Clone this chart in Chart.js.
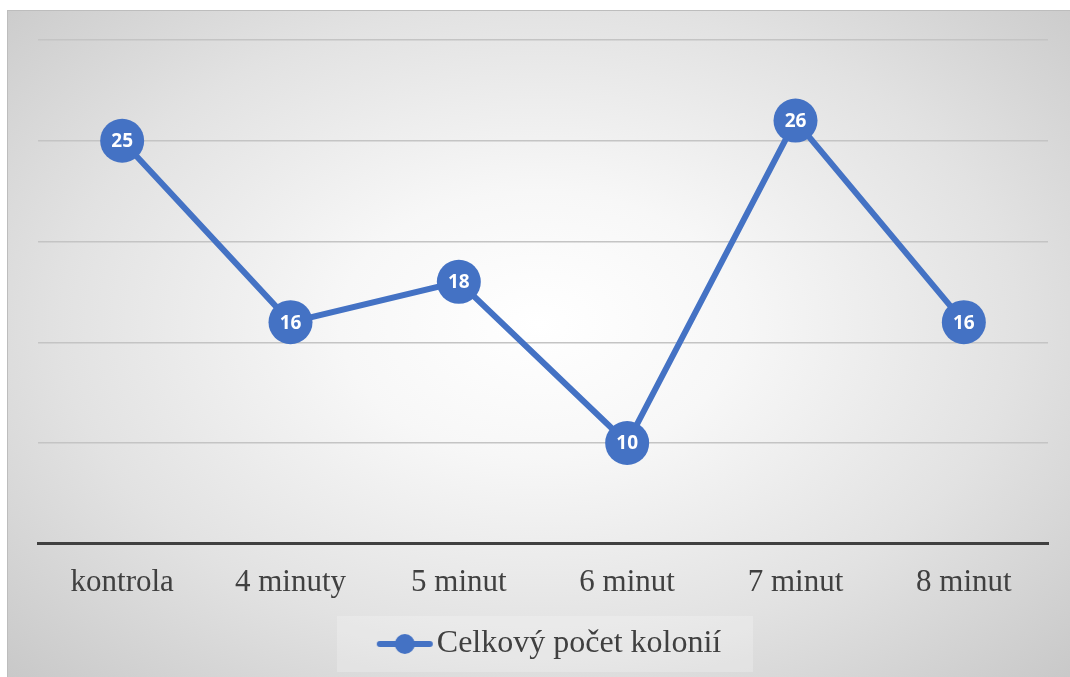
<!DOCTYPE html>
<html>
<head>
<meta charset="utf-8">
<script src="https://cdn.jsdelivr.net/npm/chart.js@4"></script>
<style>
  html, body { margin: 0; padding: 0; background: #ffffff; }
  #frame {
    position: absolute; left: 7px; top: 10px; width: 1063px; height: 667px;
    border-top: 1px solid #bdbdbd; border-left: 1px solid #bdbdbd;
    box-sizing: border-box;
    background: radial-gradient(ellipse 75% 80% at 50% 47%, #ffffff 0%, #f7f7f7 25%, #e2e2e2 60%, #c4c4c4 100%);
  }
</style>
</head>
<body>
<div id="frame"><canvas id="chart"></canvas></div>
<script>
// Chart data
const categories = ['kontrola', '4 minuty', '5 minut', '6 minut', '7 minut', '8 minut'];
const colonyCounts = [25, 16, 18, 10, 26, 16];
const seriesLabel = 'Celkový počet kolonií';

const BLUE = '#4472C4';
const TEXT = '#404040';

// legend marker: line with a dot in the middle (drawn right of the canvas centre
// so that it sits close to the legend text)
function legendMarker() {
  const c = document.createElement('canvas');
  c.width = 80; c.height = 24;
  const g = c.getContext('2d');
  g.strokeStyle = BLUE;
  g.lineWidth = 6;
  g.lineCap = 'round';
  g.beginPath();
  g.moveTo(25, 12);
  g.lineTo(75, 12);
  g.stroke();
  g.fillStyle = BLUE;
  g.beginPath();
  g.arc(50, 12, 10, 0, Math.PI * 2);
  g.fill();
  return c;
}
const marker = legendMarker();

// white value labels inside the points
const valueLabels = {
  id: 'valueLabels',
  afterDatasetsDraw(chart) {
    const ctx = chart.ctx;
    const meta = chart.getDatasetMeta(0);
    ctx.save();
    ctx.fillStyle = '#ffffff';
    ctx.font = 'bold 19px "Open Sans", sans-serif';
    ctx.textAlign = 'center';
    ctx.textBaseline = 'middle';
    meta.data.forEach((pt, i) => {
      ctx.fillText(String(chart.data.datasets[0].data[i]), pt.x, pt.y + 1);
    });
    ctx.restore();
  }
};

// lighter box behind the legend
const legendBox = {
  id: 'legendBox',
  beforeDraw(chart) {
    const lg = chart.legend;
    if (!lg) return;
    const ctx = chart.ctx;
    ctx.save();
    ctx.fillStyle = 'rgba(255,255,255,0.22)';
    const box = lg.legendHitBoxes && lg.legendHitBoxes[0];
    const cy = box ? box.top + box.height / 2 : lg.top + lg.height / 2;
    ctx.fillRect(lg.left + (lg.width - 416) / 2, cy - 28, 416, 56);
    ctx.restore();
  }
};

new Chart(document.getElementById('chart'), {
  type: 'line',
  data: {
    labels: categories,
    datasets: [{
      label: seriesLabel,
      data: colonyCounts,
      borderColor: BLUE,
      backgroundColor: BLUE,
      borderWidth: 6,
      pointRadius: 22,
      pointHoverRadius: 22,
      pointBackgroundColor: BLUE,
      pointBorderColor: BLUE,
      pointBorderWidth: 0,
      tension: 0,
      clip: false
    }]
  },
  options: {
    responsive: true,
    maintainAspectRatio: false,
    animation: false,
    layout: { padding: { left: 30, right: 18, top: 29, bottom: 7 } },
    plugins: {
      legend: {
        display: true,
        position: 'bottom',
        labels: {
          usePointStyle: true,
          pointStyle: marker,
          pointStyleWidth: 52,
          boxHeight: 24,
          padding: 7,
          color: TEXT,
          font: { family: '"Liberation Serif", serif', size: 32 },
          generateLabels: (chart) => [{
            text: seriesLabel,
            pointStyle: marker,
            fontColor: TEXT,
            hidden: false,
            datasetIndex: 0,
            lineWidth: 0
          }]
        }
      },
      tooltip: { enabled: false }
    },
    scales: {
      x: {
        offset: true,
        grid: { display: false, drawTicks: false },
        border: { display: true, color: '#404040', width: 3 },
        ticks: {
          color: TEXT,
          padding: 20,
          font: { family: '"Liberation Serif", serif', size: 31 }
        }
      },
      y: {
        min: 5,
        max: 30,
        ticks: { display: false, stepSize: 5 },
        border: { display: false },
        grid: {
          drawTicks: false,
          color: (c) => c.tick.value === 5 ? 'rgba(0,0,0,0)' : '#c4c4c4',
          lineWidth: 1.5
        }
      }
    }
  },
  plugins: [valueLabels, legendBox]
});
</script>
</body>
</html>
